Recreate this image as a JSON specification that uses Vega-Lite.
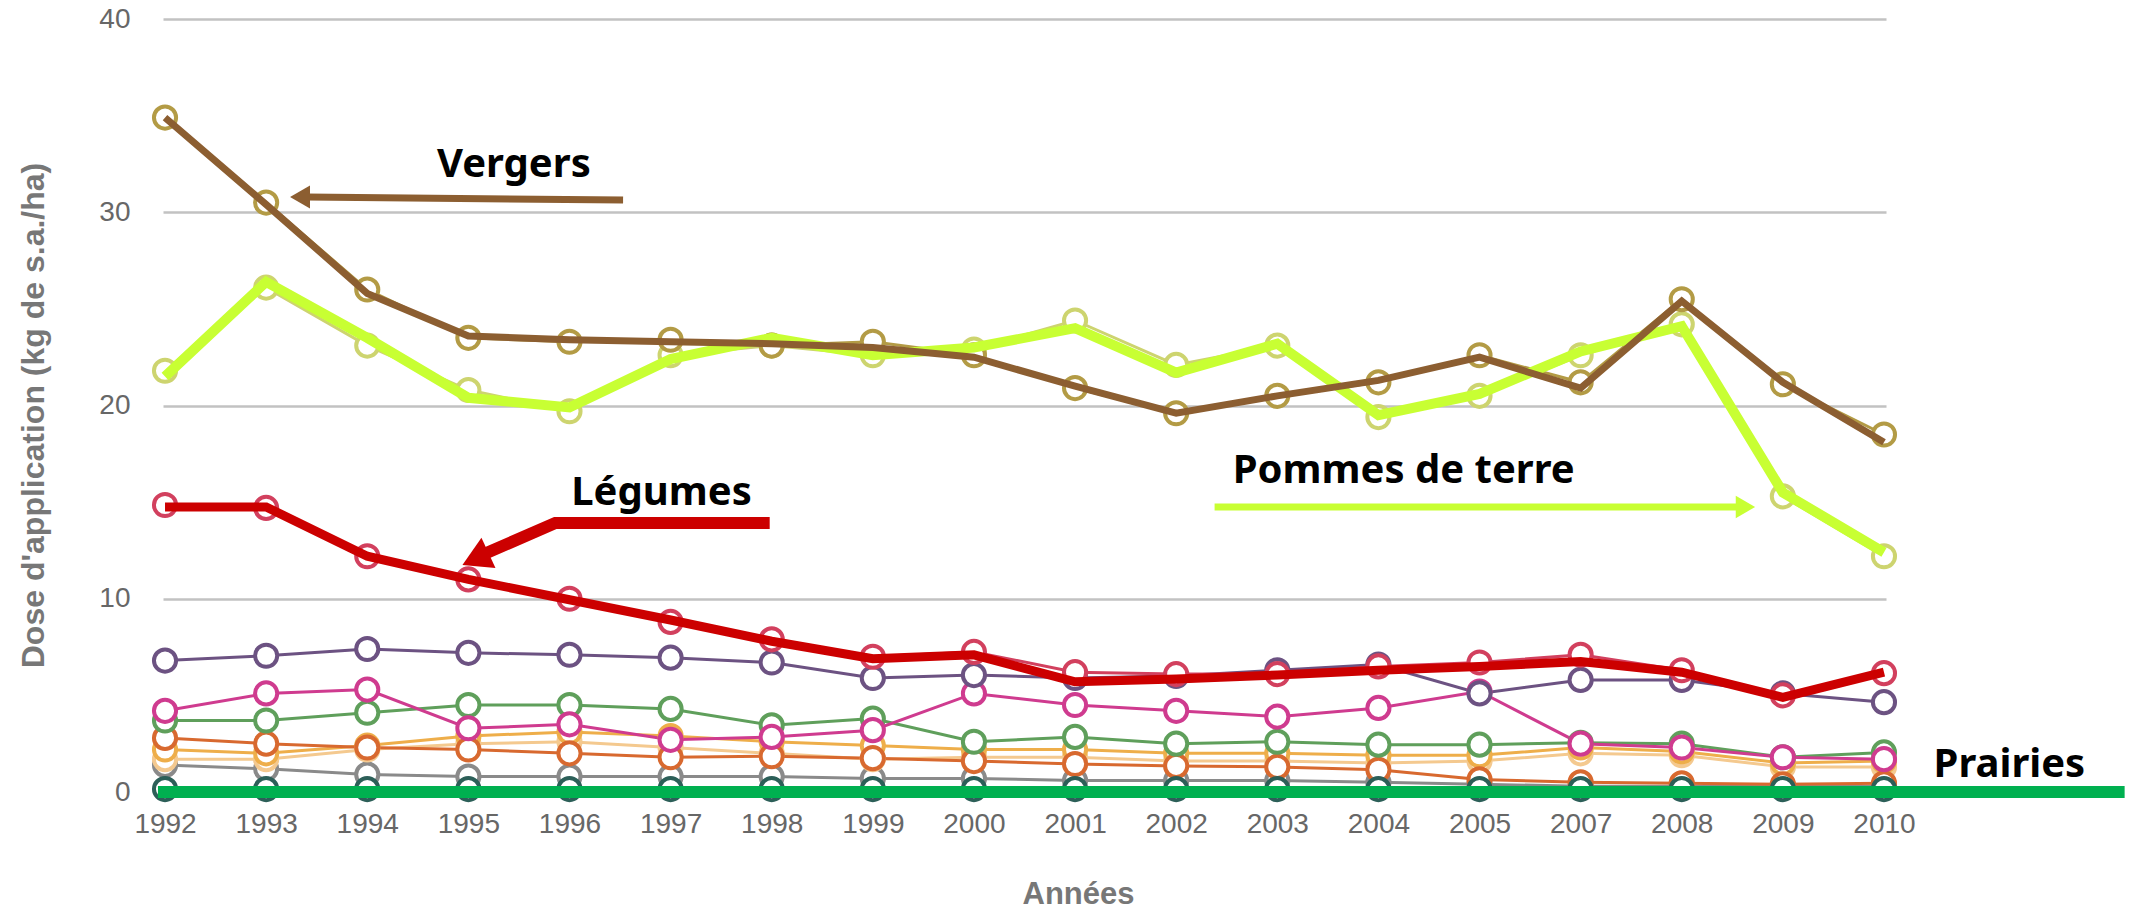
{
  "$schema": "https://vega.github.io/schema/vega-lite/v6.json",
  "autosize": {"type": "none"},
  "padding": {"left": 163, "top": 19, "right": 250, "bottom": 117},
  "width": 1723,
  "height": 773,
  "background": "white",
  "config": {"view": {"stroke": null}},
  "datasets": {
    "series": [
      {"annee": "1992", "Vergers": 34.9, "Pommes de terre": 21.8, "Légumes": 14.85, "Autre 1": 6.8, "Autre 2": 4.2, "Autre 3": 3.7, "Autre 4": 2.8, "Autre 5": 2.2, "Autre 6": 1.7, "Autre 7": 1.4, "Prairies": 0.15},
      {"annee": "1993", "Vergers": 30.5, "Pommes de terre": 26.1, "Légumes": 14.7, "Autre 1": 7.05, "Autre 2": 5.1, "Autre 3": 3.7, "Autre 4": 2.5, "Autre 5": 2.0, "Autre 6": 1.7, "Autre 7": 1.2, "Prairies": 0.15},
      {"annee": "1994", "Vergers": 26.0, "Pommes de terre": 23.1, "Légumes": 12.2, "Autre 1": 7.4, "Autre 2": 5.3, "Autre 3": 4.1, "Autre 4": 2.3, "Autre 5": 2.4, "Autre 6": 2.2, "Autre 7": 0.9, "Prairies": 0.15},
      {"annee": "1995", "Vergers": 23.5, "Pommes de terre": 20.8, "Légumes": 11.0, "Autre 1": 7.2, "Autre 2": 3.3, "Autre 3": 4.5, "Autre 4": 2.2, "Autre 5": 2.9, "Autre 6": 2.5, "Autre 7": 0.8, "Prairies": 0.15},
      {"annee": "1996", "Vergers": 23.3, "Pommes de terre": 19.7, "Légumes": 10.0, "Autre 1": 7.1, "Autre 2": 3.5, "Autre 3": 4.5, "Autre 4": 2.0, "Autre 5": 3.1, "Autre 6": 2.6, "Autre 7": 0.8, "Prairies": 0.15},
      {"annee": "1997", "Vergers": 23.4, "Pommes de terre": 22.6, "Légumes": 8.8, "Autre 1": 6.95, "Autre 2": 2.7, "Autre 3": 4.3, "Autre 4": 1.8, "Autre 5": 2.9, "Autre 6": 2.3, "Autre 7": 0.8, "Prairies": 0.15},
      {"annee": "1998", "Vergers": 23.1, "Pommes de terre": 23.1, "Légumes": 7.9, "Autre 1": 6.7, "Autre 2": 2.85, "Autre 3": 3.45, "Autre 4": 1.85, "Autre 5": 2.6, "Autre 6": 2.0, "Autre 7": 0.8, "Prairies": 0.15},
      {"annee": "1999", "Vergers": 23.3, "Pommes de terre": 22.6, "Légumes": 7.0, "Autre 1": 5.9, "Autre 2": 3.2, "Autre 3": 3.8, "Autre 4": 1.75, "Autre 5": 2.4, "Autre 6": 1.7, "Autre 7": 0.7, "Prairies": 0.15},
      {"annee": "2000", "Vergers": 22.6, "Pommes de terre": 22.9, "Légumes": 7.25, "Autre 1": 6.05, "Autre 2": 5.1, "Autre 3": 2.6, "Autre 4": 1.6, "Autre 5": 2.2, "Autre 6": 1.8, "Autre 7": 0.7, "Prairies": 0.15},
      {"annee": "2001", "Vergers": 20.9, "Pommes de terre": 24.4, "Légumes": 6.2, "Autre 1": 5.9, "Autre 2": 4.5, "Autre 3": 2.85, "Autre 4": 1.45, "Autre 5": 2.2, "Autre 6": 1.8, "Autre 7": 0.6, "Prairies": 0.15},
      {"annee": "2002", "Vergers": 19.6, "Pommes de terre": 22.1, "Légumes": 6.1, "Autre 1": 6.0, "Autre 2": 4.2, "Autre 3": 2.5, "Autre 4": 1.35, "Autre 5": 2.0, "Autre 6": 1.6, "Autre 7": 0.6, "Prairies": 0.15},
      {"annee": "2003", "Vergers": 20.5, "Pommes de terre": 23.1, "Légumes": 6.1, "Autre 1": 6.3, "Autre 2": 3.9, "Autre 3": 2.6, "Autre 4": 1.3, "Autre 5": 2.0, "Autre 6": 1.6, "Autre 7": 0.6, "Prairies": 0.15},
      {"annee": "2004", "Vergers": 21.2, "Pommes de terre": 19.4, "Légumes": 6.5, "Autre 1": 6.6, "Autre 2": 4.35, "Autre 3": 2.45, "Autre 4": 1.15, "Autre 5": 1.9, "Autre 6": 1.5, "Autre 7": 0.5, "Prairies": 0.15},
      {"annee": "2005", "Vergers": 22.6, "Pommes de terre": 20.5, "Légumes": 6.7, "Autre 1": 5.1, "Autre 2": 5.2, "Autre 3": 2.45, "Autre 4": 0.65, "Autre 5": 1.9, "Autre 6": 1.6, "Autre 7": 0.4, "Prairies": 0.15},
      {"annee": "2007", "Vergers": 21.2, "Pommes de terre": 22.6, "Légumes": 7.1, "Autre 1": 5.8, "Autre 2": 2.5, "Autre 3": 2.55, "Autre 4": 0.5, "Autre 5": 2.3, "Autre 6": 2.0, "Autre 7": 0.3, "Prairies": 0.15},
      {"annee": "2008", "Vergers": 25.5, "Pommes de terre": 24.2, "Légumes": 6.3, "Autre 1": 5.8, "Autre 2": 2.3, "Autre 3": 2.5, "Autre 4": 0.45, "Autre 5": 2.1, "Autre 6": 1.9, "Autre 7": 0.3, "Prairies": 0.15},
      {"annee": "2009", "Vergers": 21.1, "Pommes de terre": 15.3, "Légumes": 5.0, "Autre 1": 5.1, "Autre 2": 1.8, "Autre 3": 1.8, "Autre 4": 0.4, "Autre 5": 1.5, "Autre 6": 1.3, "Autre 7": 0.3, "Prairies": 0.15},
      {"annee": "2010", "Vergers": 18.5, "Pommes de terre": 12.2, "Légumes": 6.15, "Autre 1": 4.65, "Autre 2": 1.7, "Autre 3": 2.05, "Autre 4": 0.45, "Autre 5": 1.6, "Autre 6": 1.3, "Autre 7": 0.3, "Prairies": 0.15}
    ],
    "traits": [
      {"annee": "1992", "Vergers": 34.9, "Pommes de terre": 21.5, "Légumes": 14.75},
      {"annee": "1993", "Vergers": 30.4, "Pommes de terre": 26.4, "Légumes": 14.75},
      {"annee": "1994", "Vergers": 25.8, "Pommes de terre": 23.5, "Légumes": 12.2},
      {"annee": "1995", "Vergers": 23.6, "Pommes de terre": 20.4, "Légumes": 11.0},
      {"annee": "1996", "Vergers": 23.4, "Pommes de terre": 19.9, "Légumes": 9.95},
      {"annee": "1997", "Vergers": 23.3, "Pommes de terre": 22.4, "Légumes": 8.9},
      {"annee": "1998", "Vergers": 23.2, "Pommes de terre": 23.5, "Légumes": 7.8},
      {"annee": "1999", "Vergers": 23.0, "Pommes de terre": 22.6, "Légumes": 6.9},
      {"annee": "2000", "Vergers": 22.5, "Pommes de terre": 23.0, "Légumes": 7.1},
      {"annee": "2001", "Vergers": 21.0, "Pommes de terre": 24.0, "Légumes": 5.7},
      {"annee": "2002", "Vergers": 19.6, "Pommes de terre": 21.7, "Légumes": 5.85},
      {"annee": "2003", "Vergers": 20.5, "Pommes de terre": 23.2, "Légumes": 6.05},
      {"annee": "2004", "Vergers": 21.3, "Pommes de terre": 19.5, "Légumes": 6.3},
      {"annee": "2005", "Vergers": 22.5, "Pommes de terre": 20.6, "Légumes": 6.5},
      {"annee": "2007", "Vergers": 20.9, "Pommes de terre": 22.8, "Légumes": 6.75},
      {"annee": "2008", "Vergers": 25.4, "Pommes de terre": 24.1, "Légumes": 6.2},
      {"annee": "2009", "Vergers": 21.2, "Pommes de terre": 15.5, "Légumes": 4.9},
      {"annee": "2010", "Vergers": 18.1, "Pommes de terre": 12.4, "Légumes": 6.2}
    ]
  },
  "encoding": {
    "y": {
      "field": "dose", "type": "quantitative",
      "scale": {"domain": [0, 40], "nice": false, "zero": true},
      "axis": {
        "values": [0, 10, 20, 30, 40],
        "grid": true, "gridColor": "#c2c2c2", "gridWidth": 2.5,
        "domain": false, "ticks": false, "tickSize": 0,
        "labelPadding": 33, "labelFont": "Liberation Sans", "labelFontSize": 28, "labelColor": "#676767",
        "title": "Dose d'application (kg de s.a./ha)",
        "titleFont": "Liberation Sans", "titleFontSize": 32, "titleFontWeight": "bold", "titleColor": "#777777",
        "titleAngle": 270, "titleX": -130, "titleY": 396, "titleAlign": "center", "titleBaseline": "middle"
      }
    }
  },
  "layer": [
    {
      "encoding": {
        "x": {
          "field": "annee", "type": "ordinal",
          "scale": {"type": "point", "padding": 0.02},
          "axis": {
            "domain": false, "ticks": false, "tickSize": 0, "grid": false,
            "labelAngle": 0, "labelPadding": 18, "labelFont": "Liberation Sans", "labelFontSize": 28, "labelColor": "#676767",
            "title": "Années", "titleFont": "Liberation Sans", "titleFontSize": 31, "titleFontWeight": "bold", "titleColor": "#777777",
            "titleX": 915, "titleY": 111, "titleBaseline": "alphabetic", "titleAlign": "center"
          }
        }
      },
      "layer": [
        {
          "data": {"name": "series"},
          "transform": [{"fold": ["Autre 7", "Autre 6", "Autre 5", "Autre 4", "Autre 3", "Autre 2", "Autre 1", "Prairies", "Légumes", "Pommes de terre", "Vergers"], "as": ["culture", "dose"]}],
          "encoding": {
            "color": {
              "field": "culture", "type": "nominal", "legend": null,
              "scale": {
                "domain": ["Vergers", "Pommes de terre", "Légumes", "Autre 1", "Autre 2", "Autre 3", "Autre 4", "Autre 5", "Autre 6", "Autre 7", "Prairies"],
                "range": ["#b39b45", "#cdd46f", "#d2405e", "#6c5282", "#cf3b8f", "#5f9f5b", "#d8692f", "#eeae4a", "#f4c98f", "#8a8a8a", "#2c5f58"]
              }
            }
          },
          "layer": [
            {"mark": {"type": "line", "strokeWidth": 3}},
            {"mark": {"type": "point", "filled": false, "fill": "white", "fillOpacity": 1, "strokeWidth": 4, "size": 490, "opacity": 1}}
          ]
        },
        {
          "data": {"name": "traits"},
          "transform": [{"fold": ["Pommes de terre"], "as": ["trait", "dose"]}],
          "mark": {"type": "line", "color": "#c8ff33", "strokeWidth": 10}
        },
        {
          "data": {"name": "traits"},
          "transform": [{"fold": ["Vergers"], "as": ["trait", "dose"]}],
          "mark": {"type": "line", "color": "#8c5e31", "strokeWidth": 7}
        },
        {
          "data": {"name": "traits"},
          "transform": [{"fold": ["Légumes"], "as": ["trait", "dose"]}],
          "mark": {"type": "line", "color": "#cc0000", "strokeWidth": 9}
        }
      ]
    },
    {
      "encoding": {
        "x": {"field": "rang", "type": "quantitative", "scale": {"domain": [-0.02, 17.02], "nice": false, "zero": false}, "axis": null}
      },
      "layer": [
        {
          "data": {"values": [{"trait": "Prairies", "rang": -0.07, "dose": 0}, {"trait": "Prairies", "rang": 19.38, "dose": 0}]},
          "mark": {"type": "line", "color": "#00b050", "strokeWidth": 12, "strokeCap": "butt"}
        },
        {
          "data": {"values": [{"fleche": "Vergers", "ordre": 1, "rang": 4.53, "dose": 30.63}, {"fleche": "Vergers", "ordre": 2, "rang": 1.40, "dose": 30.79}]},
          "mark": {"type": "line", "color": "#8c5e31", "strokeWidth": 7, "strokeCap": "butt"},
          "encoding": {"order": {"field": "ordre", "type": "quantitative"}}
        },
        {
          "data": {"values": [{"fleche": "Vergers", "rang": 1.335, "dose": 30.79}]},
          "mark": {"type": "point", "shape": "triangle-left", "filled": true, "color": "#8c5e31", "size": 530, "opacity": 1}
        },
        {
          "data": {"values": [{"fleche": "Pommes de terre", "ordre": 1, "rang": 10.38, "dose": 14.75}, {"fleche": "Pommes de terre", "ordre": 2, "rang": 15.55, "dose": 14.75}]},
          "mark": {"type": "line", "color": "#c8ff33", "strokeWidth": 7, "strokeCap": "butt"},
          "encoding": {"order": {"field": "ordre", "type": "quantitative"}}
        },
        {
          "data": {"values": [{"fleche": "Pommes de terre", "rang": 15.63, "dose": 14.75}]},
          "mark": {"type": "point", "shape": "triangle-right", "filled": true, "color": "#c8ff33", "size": 500, "opacity": 1}
        },
        {
          "data": {"values": [{"fleche": "Légumes", "ordre": 1, "rang": 5.98, "dose": 13.92}, {"fleche": "Légumes", "ordre": 2, "rang": 3.86, "dose": 13.92}, {"fleche": "Légumes", "ordre": 3, "rang": 3.15, "dose": 12.3}]},
          "mark": {"type": "line", "color": "#cc0000", "strokeWidth": 12, "strokeCap": "butt", "strokeJoin": "miter"},
          "encoding": {"order": {"field": "ordre", "type": "quantitative"}}
        },
        {
          "data": {"values": [{"fleche": "Légumes", "rang": 3.07, "dose": 12.06}]},
          "mark": {"type": "point", "shape": "triangle-left", "angle": 335, "filled": true, "color": "#cc0000", "size": 1100, "opacity": 1}
        },
        {
          "data": {"values": [
            {"texte": "Vergers", "rang": 3.45, "dose": 31.82},
            {"texte": "Pommes de terre", "rang": 12.25, "dose": 15.99},
            {"texte": "Légumes", "rang": 4.91, "dose": 14.85},
            {"texte": "Prairies", "rang": 18.24, "dose": 0.78}
          ]},
          "mark": {"type": "text", "font": "Noto Sans", "fontWeight": "bold", "fontSize": 40, "color": "#000000", "align": "center", "baseline": "alphabetic"},
          "encoding": {"text": {"field": "texte", "type": "nominal"}}
        }
      ]
    }
  ],
  "resolve": {"scale": {"x": "independent"}, "axis": {"x": "independent"}}
}
